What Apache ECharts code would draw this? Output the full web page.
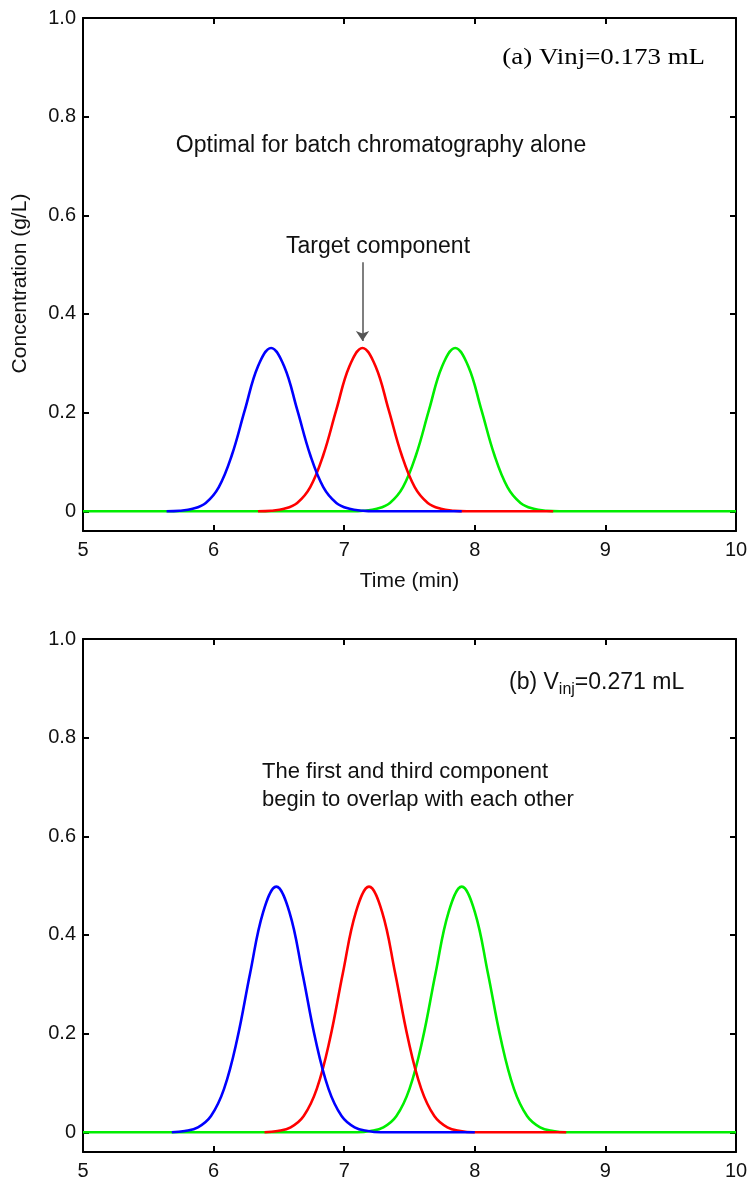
<!DOCTYPE html>
<html>
<head>
<meta charset="utf-8">
<script src="https://cdn.jsdelivr.net/npm/echarts@6/dist/echarts.min.js"></script>
<style>
html,body{margin:0;padding:0;background:#fff;}
#chart{width:752px;height:1184px;}
</style>
</head>
<body>
<div id="chart"></div>
<script>
// ---- tick labels ----
const xTicks = [5, 6, 7, 8, 9, 10];
const yTicks = [0, 0.2, 0.4, 0.6, 0.8, 1.0];
const yTickLabels = ['0', '0.2', '0.4', '0.6', '0.8', '1.0'];

// ---- panel (a): Vinj = 0.173 mL ----
const tA_blue  = [5.64,5.74,5.84,5.94,6.04,6.14,6.24,6.34,6.44,6.54,6.64,6.74,6.84,6.94,7.04,7.14,7.24,7.90];
const cA_blue  = [0,0.001,0.005,0.017,0.049,0.114,0.206,0.294,0.331,0.294,0.206,0.114,0.049,0.017,0.005,0.001,0,0];
const tA_red   = [6.34,6.44,6.54,6.64,6.74,6.84,6.94,7.04,7.14,7.24,7.34,7.44,7.54,7.64,7.74,7.84,7.94,8.60];
const cA_red   = [0,0.001,0.005,0.017,0.049,0.114,0.206,0.294,0.331,0.294,0.206,0.114,0.049,0.017,0.005,0.001,0,0];
const tA_green = [5.00,7.05,7.15,7.25,7.35,7.45,7.55,7.65,7.75,7.85,7.95,8.05,8.15,8.25,8.35,8.45,8.55,8.65,10.00];
const cA_green = [0,0,0.001,0.005,0.017,0.049,0.114,0.206,0.294,0.331,0.294,0.206,0.114,0.049,0.017,0.005,0.001,0,0];

// ---- panel (b): Vinj = 0.271 mL ----
const tB_blue  = [5.68,5.78,5.88,5.98,6.08,6.18,6.28,6.38,6.48,6.58,6.68,6.78,6.88,6.98,7.08,7.18,7.28,8.00];
const cB_blue  = [0,0.0025,0.010,0.033,0.088,0.188,0.323,0.447,0.498,0.447,0.323,0.188,0.088,0.033,0.010,0.0025,0,0];
const tB_red   = [6.39,6.49,6.59,6.69,6.79,6.89,6.99,7.09,7.19,7.29,7.39,7.49,7.59,7.69,7.79,7.89,7.99,8.70];
const cB_red   = [0,0.0025,0.010,0.033,0.088,0.188,0.323,0.447,0.498,0.447,0.323,0.188,0.088,0.033,0.010,0.0025,0,0];
const tB_green = [5.00,7.10,7.20,7.30,7.40,7.50,7.60,7.70,7.80,7.90,8.00,8.10,8.20,8.30,8.40,8.50,8.60,8.70,10.00];
const cB_green = [0,0,0.0025,0.010,0.033,0.088,0.188,0.323,0.447,0.498,0.447,0.323,0.188,0.088,0.033,0.010,0.0025,0,0];

// target component arrow (data coords)
const arrowX = 7.14, arrowTop = 0.505, arrowTip = 0.345;

const SANS = '"Liberation Sans", Arial, Helvetica, sans-serif';
const SERIF = '"Liberation Serif", "Times New Roman", serif';
const COL = {blue:'#0000ff', red:'#ff0000', green:'#00ee00'};

function pairs(t, c){ return t.map((x,i)=>[x, c[i]]); }

const chart = echarts.init(document.getElementById('chart'), null, {renderer:'canvas'});

const grids = [
  {left:83, top:18, width:653, height:513},
  {left:83, top:639, width:653, height:513}
];

function xAxisCfg(gi, pos, showLabels, name){
  return {
    type:'value', gridIndex:gi, position:pos, min:5, max:10, interval:1,
    name: name || '', nameLocation:'middle', nameGap:40,
    nameTextStyle:{fontFamily:SANS, fontSize:21, color:'#111'},
    axisLine:{show:true, onZero:false, lineStyle:{color:'#000', width:2}},
    axisTick:{show:true, inside:true, length:6, lineStyle:{color:'#000', width:2}, customValues:xTicks},
    axisLabel:{show:showLabels, fontFamily:SANS, fontSize:20, color:'#111', margin:9, customValues:xTicks},
    splitLine:{show:false}
  };
}
function yAxisCfg(gi, pos, showLabels, name){
  return {
    type:'value', gridIndex:gi, position:pos, min:-0.04, max:1.0,
    name: name || '', nameLocation:'middle', nameGap:52, nameRotate:90,
    nameTextStyle:{fontFamily:SANS, fontSize:21, color:'#111', padding:[0,18,0,0]},
    axisLine:{show:true, onZero:false, lineStyle:{color:'#000', width:2}},
    axisTick:{show:true, inside:true, length:6, lineStyle:{color:'#000', width:2}, customValues:yTicks},
    axisLabel:{show:showLabels, fontFamily:SANS, fontSize:20, color:'#111', margin:7, customValues:yTicks,
      formatter:function(v){ const i = yTicks.findIndex(t=>Math.abs(t-v)<1e-9); return i>=0 ? yTickLabels[i] : ''; }},
    splitLine:{show:false}
  };
}

function lineSeries(xi, yi, data, color, extra){
  return Object.assign({
    type:'line', xAxisIndex:xi, yAxisIndex:yi, data:data, smooth:0.4,
    showSymbol:false, symbol:'none', animation:false,
    lineStyle:{color:color, width:2.6}, itemStyle:{color:color}
  }, extra||{});
}

const option = {
  backgroundColor:'#fff',
  animation:false,
  grid: grids,
  xAxis:[
    xAxisCfg(0,'bottom',true,'Time (min)'),
    xAxisCfg(0,'top',false),
    xAxisCfg(1,'bottom',true),
    xAxisCfg(1,'top',false)
  ],
  yAxis:[
    yAxisCfg(0,'left',true,'Concentration (g/L)'),
    yAxisCfg(0,'right',false),
    yAxisCfg(1,'left',true),
    yAxisCfg(1,'right',false)
  ],
  series:[
    lineSeries(0,0,pairs(tA_green,cA_green),COL.green),
    lineSeries(0,0,pairs(tA_red,cA_red),COL.red,{
      markLine:{
        silent:true, symbol:['none','arrow'], symbolSize:10, animation:false,
        label:{show:false},
        lineStyle:{color:'#555', width:1.5, type:'solid'},
        data:[[{coord:[arrowX, arrowTop]},{coord:[arrowX, arrowTip]}]]
      }
    }),
    lineSeries(0,0,pairs(tA_blue,cA_blue),COL.blue),
    lineSeries(2,2,pairs(tB_green,cB_green),COL.green),
    lineSeries(2,2,pairs(tB_red,cB_red),COL.red),
    lineSeries(2,2,pairs(tB_blue,cB_blue),COL.blue)
  ],
  graphic:[
    {type:'text', x:705, y:58, scaleX:1.17, style:{text:'(a) Vinj=0.173 mL', font:'23px '+SERIF, fill:'#000', textAlign:'right', textVerticalAlign:'middle'}},
    {type:'text', x:381, y:146, style:{text:'Optimal for batch chromatography alone', font:'23px '+SANS, fill:'#111', textAlign:'center', textVerticalAlign:'middle'}},
    {type:'text', x:378, y:247, style:{text:'Target component', font:'23px '+SANS, fill:'#111', textAlign:'center', textVerticalAlign:'middle'}},
    {type:'text', x:509, y:671, style:{
      text:'{a|(b) V}{s|inj}{a|=0.271 mL}',
      rich:{
        a:{fontFamily:SANS, fontSize:23, fill:'#111', color:'#111', verticalAlign:'top', lineHeight:27},
        s:{fontFamily:SANS, fontSize:16, fill:'#111', color:'#111', verticalAlign:'bottom', lineHeight:27, padding:[16,0,0,0]}
      }
    }},
    {type:'text', x:262, y:772, style:{text:'The first and third component', font:'22px '+SANS, fill:'#111', textVerticalAlign:'middle'}},
    {type:'text', x:262, y:800, style:{text:'begin to overlap with each other', font:'22px '+SANS, fill:'#111', textVerticalAlign:'middle'}}
  ]
};
chart.setOption(option);
</script>
</body>
</html>
